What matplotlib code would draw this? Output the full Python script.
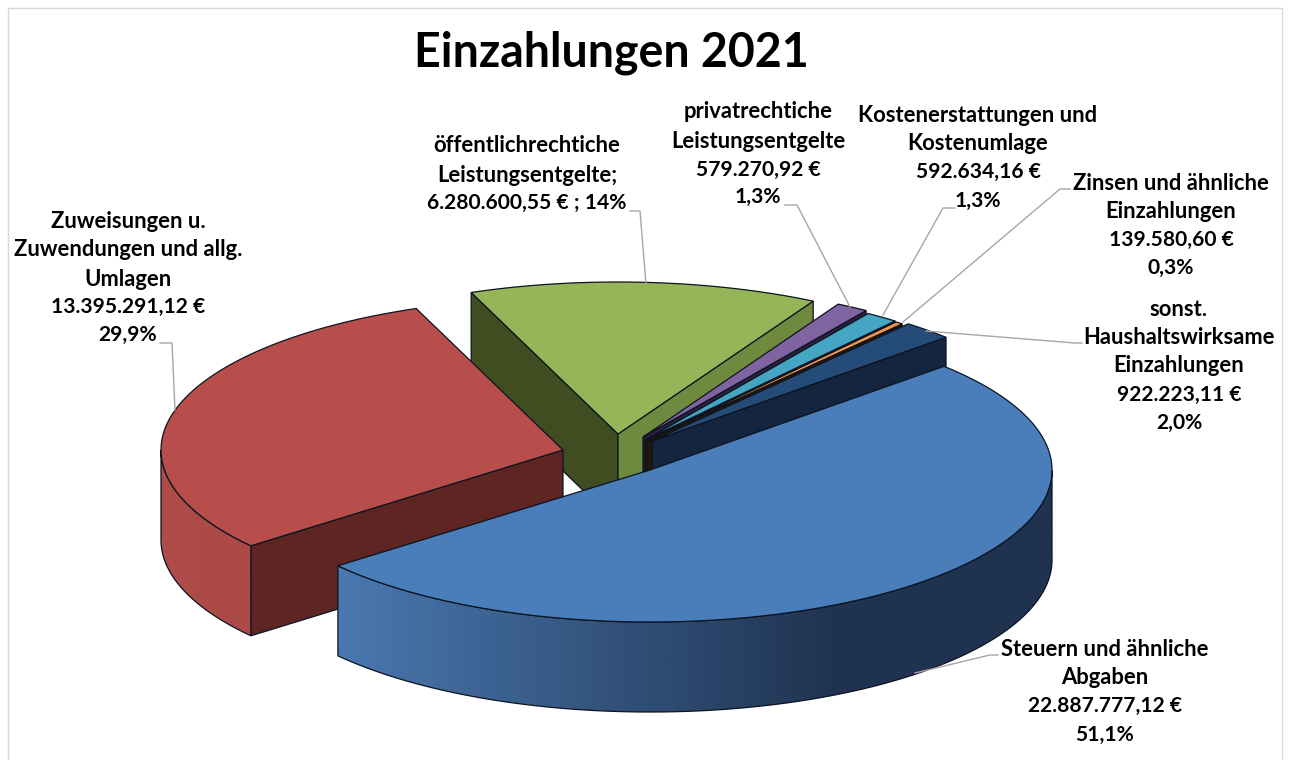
import numpy as np
import matplotlib
matplotlib.use('Agg')
import matplotlib.pyplot as plt
from matplotlib.colors import LinearSegmentedColormap
from matplotlib.patches import Polygon, Rectangle

plt.rcParams['font.family'] = ['Lato', 'DejaVu Sans']

# data
title = 'Einzahlungen 2021'
values = [22887777.12, 13395291.12, 6280600.55, 579270.92, 592634.16, 139580.60, 922223.11]
label_lines = [
    ['Steuern und ähnliche', 'Abgaben', '22.887.777,12 €', '51,1%'],
    ['Zuweisungen u.', 'Zuwendungen und allg.', 'Umlagen', '13.395.291,12 €', '29,9%'],
    ['öffentlichrechtiche', 'Leistungsentgelte;', '6.280.600,55 € ; 14%'],
    ['privatrechtiche', 'Leistungsentgelte', '579.270,92 €', '1,3%'],
    ['Kostenerstattungen und', 'Kostenumlage', '592.634,16 €', '1,3%'],
    ['Zinsen und ähnliche', 'Einzahlungen', '139.580,60 €', '0,3%'],
    ['sonst.', 'Haushaltswirksame', 'Einzahlungen', '922.223,11 €', '2,0%'],
]

# pie layout, pixels
start_angle = 47.0
rx, ry, depth = 402, 152, 90
centers = [(650, 470), (563, 450), (618, 434), (643, 437), (645, 440), (646, 441), (652, 441)]
top_colors = ['#4a7ebb', '#b84e4b', '#95b558', '#8064a2', '#44a6c2', '#f79646', '#254b78']
start_wall = ['#1f3350', '#5e2522', '#3f4d20', '#2c2040', '#14303c', '#241608', '#14253f']
end_wall = ['#1f3350', '#5e2522', '#6f8a3f', '#2c2040', '#14303c', '#241608', '#14253f']
outer_left = ['#4a78b0', '#b04c49', '#6f8a3f', '#3c2c52', '#1d5060', '#6e4018', '#14253f']
outer_right = ['#1f3350', '#ab4a47', '#6f8a3f', '#3c2c52', '#1d5060', '#6e4018', '#14253f']
edge = '#0c1420'

label_x = [1105, 128, 527, 758, 978, 1171, 1179]
label_y = [
    [649, 677, 706, 735],
    [222, 250, 280, 307, 335],
    [145, 175, 203],
    [112, 141, 170, 197],
    [115, 143, 172, 201],
    [183, 212, 240, 268],
    [310, 338, 366, 395, 423],
]
leaders = [
    [(998, 655), (990, 655), (915, 673)],
    [(160, 343), (172, 343), (175, 410)],
    [(630, 211), (640, 211), (646, 284)],
    [(785, 205), (797, 205), (850, 307)],
    [(955, 208), (943, 208), (883, 315)],
    [(1070, 189), (1060, 189), (903, 322)],
    [(1082, 343), (1075, 343), (926, 331)],
]


def rim(c, a1, a2, n=120):
    t = np.radians(np.linspace(a1, a2, n))
    return np.column_stack([c[0] + rx * np.sin(t), c[1] - ry * np.cos(t)])


def cut_wall(ax, c, angle, color, z):
    p = rim(c, angle, angle, 1)[0]
    pts = [c, p, (p[0], p[1] + depth), (c[0], c[1] + depth)]
    ax.add_patch(Polygon(pts, closed=True, fc=color, ec=edge, lw=0.9, zorder=z))


def outer_wall(ax, c, a1, a2, left, right, z):
    # only the part that faces the viewer
    a1, a2 = max(a1, 90), min(a2, 270)
    if a2 <= a1:
        return
    pts = rim(c, a1, a2, 240)
    lower = pts + (0, depth)
    shape = Polygon(np.vstack([pts, lower[::-1]]), closed=True, fc='none', ec=edge, lw=0.9, zorder=z + 0.1)
    ax.add_patch(shape)
    # shading runs along x and reaches the dark colour well before the right edge
    x0, x1 = pts[:, 0].min(), pts[:, 0].max()
    cmap = LinearSegmentedColormap.from_list('wall', [(0, left), (0.7, right), (1, right)], N=256)
    grad = np.linspace(0, 1, 512).reshape(1, -1)
    im = ax.imshow(grad, cmap=cmap, extent=(x0, x1, lower[:, 1].max(), pts[:, 1].min()),
                   aspect='auto', zorder=z, interpolation='bilinear')
    im.set_clip_path(Polygon(np.vstack([pts, lower[::-1]]), closed=True, transform=ax.transData))


fig = plt.figure(figsize=(12.9, 7.6), dpi=100)
ax = fig.add_axes([0, 0, 1, 1])
ax.axis('off')
ax.add_patch(Rectangle((8, 8), 1274, 760, fc='white', ec='#d9d9d9', lw=1.0, zorder=0))

sweeps = np.array(values) / np.sum(values) * 360
ends = start_angle + np.cumsum(sweeps)
starts = ends - sweeps

# back to front: green and the thin slices, then red, then blue
order = [2, 3, 4, 5, 6, 1, 0]
for z, i in enumerate(order):
    c = centers[i]
    a1, a2 = starts[i], ends[i]
    base = 2 + z
    if a2 > 360:
        a1, a2 = a1 - 360, a2 - 360
    # a cut face is seen only if it turns towards the viewer
    if np.sin(np.radians(a1)) < 0:
        cut_wall(ax, c, a1, start_wall[i], base)
    if np.sin(np.radians(a2)) > 0:
        cut_wall(ax, c, a2, end_wall[i], base + 0.1)
    outer_wall(ax, c, a1, a2, outer_left[i], outer_right[i], base + 0.2)
    top = np.vstack([[c], rim(c, a1, a2)])
    ax.add_patch(Polygon(top, closed=True, fc=top_colors[i], ec=edge, lw=0.9, zorder=base + 0.5))

for pts in leaders:
    xs, ys = zip(*pts)
    ax.plot(xs, ys, color='#a6a6a6', lw=1.0, zorder=20)

ax.text(611, 53, title, ha='center', va='center', fontsize=33.5, fontweight='bold', color='black', zorder=30)
for lines, x, ys in zip(label_lines, label_x, label_y):
    for line, y in zip(lines, ys):
        # digits run wider in this font than in the original
        size = 15.1 if ('€' in line or '%' in line) else 15.8
        ax.text(x, y, line, ha='center', va='center', fontsize=size, fontweight='bold', color='black', zorder=30)

ax.set_xlim(0, 1290)
ax.set_ylim(760, 0)
fig.savefig('out.png', dpi=100)
